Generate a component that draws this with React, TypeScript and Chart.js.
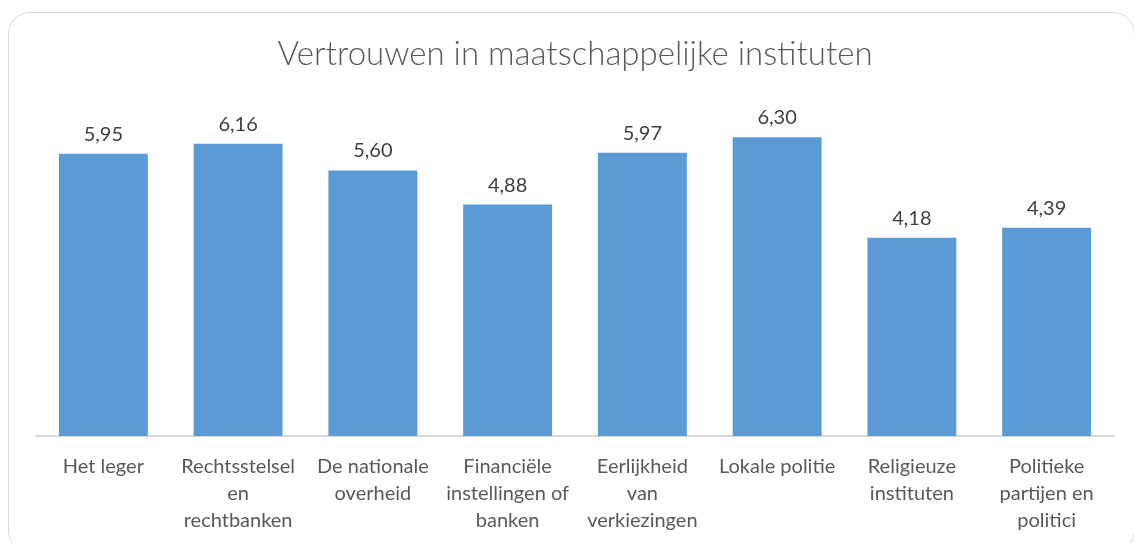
import React, { useEffect, useRef } from "react";
import { Chart, registerables } from "chart.js";

Chart.register(...registerables);

const title = "Vertrouwen in maatschappelijke instituten";
const categories: (string | string[])[] = [
  "Het leger",
  ["Rechtsstelsel", "en", "rechtbanken"],
  ["De nationale", "overheid"],
  ["Financiële", "instellingen of", "banken"],
  ["Eerlijkheid", "van", "verkiezingen"],
  "Lokale politie",
  ["Religieuze", "instituten"],
  ["Politieke", "partijen en", "politici"],
];
const values = [5.95, 6.16, 5.6, 4.88, 5.97, 6.3, 4.18, 4.39];

const FONT = "Lato, 'Open Sans', sans-serif";

const valueLabels = {
  id: "valueLabels",
  afterDatasetsDraw(chart: any) {
    const ctx = chart.ctx;
    const meta = chart.getDatasetMeta(0);
    ctx.save();
    ctx.font = `20px ${FONT}`;
    ctx.fillStyle = "#404040";
    ctx.textAlign = "center";
    ctx.textBaseline = "alphabetic";
    meta.data.forEach((bar: any, i: number) => {
      const v = values[i].toFixed(2).replace(".", ",");
      ctx.fillText(v, bar.x, bar.y - 13);
    });
    ctx.restore();
  },
};

export default function App() {
  const ref = useRef<HTMLCanvasElement>(null);
  useEffect(() => {
    if (!ref.current) return;
    const chart = new Chart(ref.current, {
      type: "bar",
      data: {
        labels: categories,
        datasets: [
          {
            data: values,
            backgroundColor: "#5B9BD5",
            borderWidth: 0,
            barPercentage: 0.66,
            categoryPercentage: 1,
          },
        ],
      },
      options: {
        animation: false,
        responsive: false,
        maintainAspectRatio: false,
        layout: { padding: { left: 36, right: 20, top: 0, bottom: 0 } },
        plugins: {
          legend: { display: false },
          tooltip: { enabled: false },
          title: {
            display: true,
            text: title,
            color: "#595959",
            font: { family: FONT, size: 33, weight: "300" as any, lineHeight: 1.2 },
            padding: { top: 35, bottom: 29.4 },
          },
        },
        scales: {
          x: {
            grid: { display: false },
            border: { display: true, color: "#d9d9d9", width: 2 },
            ticks: {
              autoSkip: false,
              maxRotation: 0,
              minRotation: 0,
              color: "#595959",
              font: { family: FONT, size: 20, lineHeight: 1.35 },
              padding: 9,
            },
            afterFit: (s: any) => {
              s.height = 107;
            },
          },
          y: {
            display: false,
            min: 0,
            max: 7,
          },
        },
      },
      plugins: [valueLabels],
    });
    return () => chart.destroy();
  }, []);
  return (
    <div style={{ position: "fixed", left: 0, top: 0, width: 1134, height: 543, overflow: "hidden", background: "#fff" }}>
      <div
        style={{
          position: "absolute",
          left: 8,
          top: 12,
          width: 1127,
          height: 540,
          border: "1.5px solid #d9d9d9",
          borderRadius: 22,
          boxSizing: "border-box",
        }}
      />
      <canvas ref={ref} width={1134} height={543} style={{ position: "absolute", left: 0, top: 0 }} />
    </div>
  );
}
